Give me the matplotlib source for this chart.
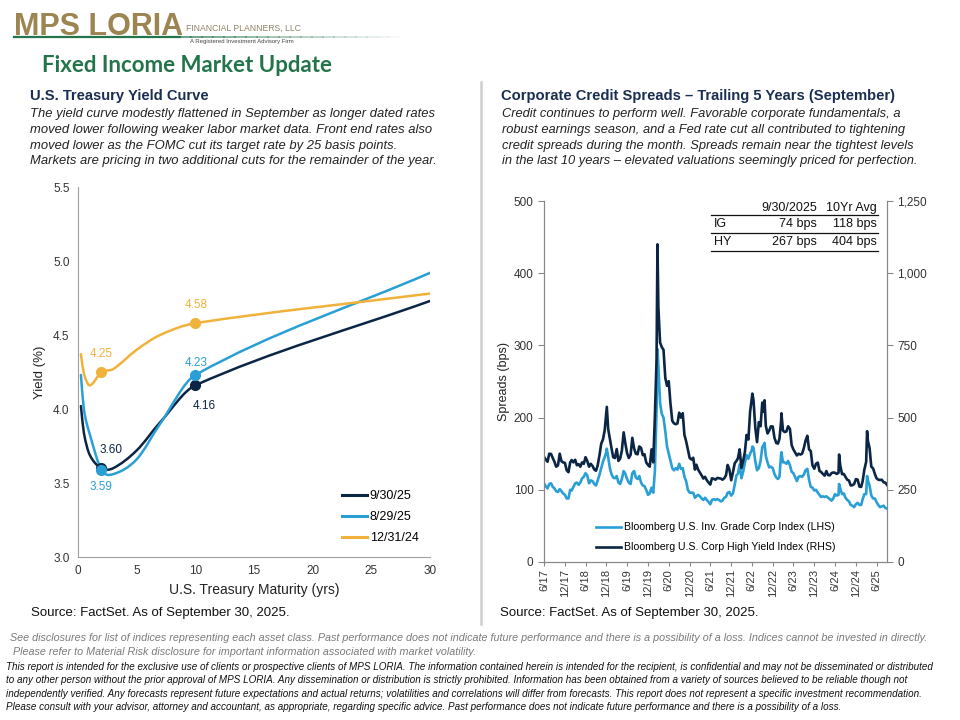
import numpy as np
import pandas as pd
import matplotlib
matplotlib.use('Agg')
import matplotlib.pyplot as plt
from matplotlib.path import Path
from matplotlib.patches import PathPatch
from matplotlib.lines import Line2D
from matplotlib.ticker import FuncFormatter

plt.rcParams['font.family'] = ['Liberation Sans', 'DejaVu Sans']

# ---- yield curve data ----
maturities = [0.25, 0.5, 1, 2, 3, 5, 7, 10, 30]
curve_names = ['9/30/25', '8/29/25', '12/31/24']
yld_sep25 = [4.02, 3.84, 3.69, 3.60, 3.60, 3.72, 3.91, 4.16, 4.73]
yld_aug25 = [4.23, 4.00, 3.83, 3.59, 3.56, 3.66, 3.90, 4.23, 4.92]
yld_dec24 = [4.37, 4.24, 4.16, 4.25, 4.27, 4.40, 4.50, 4.58, 4.78]
label_tenors = [2, 10]

# ---- credit spreads data (semi-monthly, 6/30/2017 - 9/30/2025) ----
ig_2017 = [109, 105, 102, 108, 109, 104, 102, 98, 97, 101, 98, 95, 93]
ig_2018 = [88, 88, 100, 99, 104, 109, 110, 107, 110, 116, 118, 123, 120, 109, 113, 112, 108, 106, 113, 121, 130, 139, 145, 153]
ig_2019 = [145, 129, 121, 117, 116, 119, 110, 108, 115, 126, 122, 115, 110, 108, 123, 126, 117, 115, 119, 110, 106, 105, 100, 93]
ig_2020 = [95, 103, 96, 125, 210, 272, 220, 205, 200, 181, 160, 150, 140, 130, 127, 130, 128, 136, 129, 130, 118, 112, 100, 96]
ig_2021 = [96, 96, 89, 91, 93, 91, 88, 86, 89, 86, 83, 80, 86, 87, 86, 87, 86, 84, 85, 89, 90, 96, 97, 92]
ig_2022 = [95, 107, 120, 122, 135, 116, 125, 137, 148, 143, 150, 155, 158, 139, 127, 130, 140, 159, 163, 147, 138, 131, 132, 130]
ig_2023 = [122, 117, 115, 118, 150, 138, 138, 136, 140, 134, 125, 123, 118, 112, 118, 119, 118, 121, 127, 129, 114, 104, 103, 99]
ig_2024 = [100, 96, 93, 90, 91, 90, 91, 89, 87, 85, 88, 94, 92, 93, 102, 94, 95, 89, 86, 84, 79, 78, 76, 80]
ig_2025 = [82, 79, 79, 87, 94, 94, 113, 106, 92, 88, 88, 83, 79, 76, 77, 78, 75, 74]

hy_2017 = [364, 355, 347, 375, 374, 360, 347, 330, 335, 375, 349, 345, 343]
hy_2018 = [318, 311, 345, 353, 345, 354, 335, 339, 330, 345, 340, 363, 350, 330, 340, 332, 320, 316, 335, 371, 410, 424, 455, 526]
hy_2019 = [460, 423, 390, 363, 360, 391, 350, 358, 385, 449, 410, 377, 360, 371, 430, 393, 375, 373, 400, 395, 370, 373, 345, 336]
hy_2020 = [330, 390, 345, 500, 700, 880, 760, 744, 735, 637, 610, 626, 550, 489, 480, 477, 480, 517, 500, 515, 440, 418, 390, 360]
hy_2021 = [355, 361, 320, 337, 320, 310, 300, 289, 295, 283, 275, 268, 290, 288, 285, 291, 290, 289, 285, 290, 300, 336, 320, 283]
hy_2022 = [310, 342, 350, 359, 390, 325, 350, 380, 440, 424, 520, 569, 560, 464, 415, 484, 470, 552, 520, 472, 445, 455, 470, 469]
hy_2023 = [430, 412, 410, 427, 490, 455, 450, 452, 470, 461, 405, 390, 380, 369, 375, 372, 375, 394, 420, 437, 390, 384, 335, 323]
hy_2024 = [340, 344, 315, 312, 305, 299, 315, 301, 300, 308, 310, 309, 305, 309, 335, 304, 305, 295, 285, 282, 265, 266, 270, 287]
hy_2025 = [285, 261, 260, 280, 320, 347, 420, 394, 330, 324, 305, 290, 285, 284, 285, 276, 275, 267]

# stress peaks between the semi-monthly points
peak_dates = ['2019-01-03', '2020-03-23', '2022-07-05', '2022-10-20', '2023-03-17', '2024-08-05', '2025-04-08']
ig_peaks = [157, 295, 160, 165, 152, 108, 119]
hy_peaks = [537, 1100, 583, 560, 515, 372, 453]

table_rows = [['IG', '74 bps', '118 bps'], ['HY', '267 bps', '404 bps']]

NAVY = '#0B2545'
LBLUE = '#2A9FD6'
GOLD = '#F0B23A'
GREEN = '#23744A'
W, H = 960, 720


def ftext(fig, x, y, s, **kw):
    kw.setdefault('va', 'center')
    fig.text(x / W, 1 - y / H, s, **kw)


def fline(fig, x0, x1, y, **kw):
    fig.add_artist(Line2D([x0 / W, x1 / W], [1 - y / H, 1 - y / H], transform=fig.transFigure, **kw))


def smooth_path(x, y):
    # cubic hermite through the points, drawn as bezier segments
    x = np.asarray(x, float)
    y = np.asarray(y, float)
    m = np.zeros_like(y)
    m[0] = (y[1] - y[0]) / (x[1] - x[0])
    m[-1] = (y[-1] - y[-2]) / (x[-1] - x[-2])
    m[1:-1] = (y[2:] - y[:-2]) / (x[2:] - x[:-2])
    verts = [(x[0], y[0])]
    codes = [Path.MOVETO]
    for i in range(len(x) - 1):
        h = x[i + 1] - x[i]
        verts += [(x[i] + h / 3, y[i] + m[i] * h / 3),
                  (x[i + 1] - h / 3, y[i + 1] - m[i + 1] * h / 3),
                  (x[i + 1], y[i + 1])]
        codes += [Path.CURVE4] * 3
    return Path(verts, codes)


fig = plt.figure(figsize=(9.6, 7.2), dpi=100)

# ---- header ----
ftext(fig, 14, 27, 'MPS LORIA', fontsize=22, fontweight='bold', color='#9C8551')
ftext(fig, 186, 28, 'FINANCIAL PLANNERS, LLC', fontsize=6.2, color='#8F8468',
      family=['Liberation Sans Narrow', 'Liberation Sans'])
ftext(fig, 190, 42, 'A Registered Investment Advisory Firm', fontsize=4.3, color='#444444')
fline(fig, 14, 180, 36.5, color=GREEN, lw=1.6)
for i in range(20):
    fline(fig, 180 + i * 11, 191 + i * 11, 36.5, color=GREEN, lw=1.2, alpha=0.8 * (1 - i / 20))
ftext(fig, 42, 66, 'Fixed Income Market Update', fontsize=16, fontweight='bold', color=GREEN,
      family=['Lato', 'DejaVu Sans'])

# divider
fig.add_artist(Line2D([481 / W, 481 / W], [1 - 82 / H, 1 - 624 / H], transform=fig.transFigure,
                      color='#CFCFCF', lw=1.8))

# ---- section texts ----
ftext(fig, 30, 96, 'U.S. Treasury Yield Curve', fontsize=10.6, fontweight='bold', color='#1B2F52')
left_body = ['The yield curve modestly flattened in September as longer dated rates',
             'moved lower following weaker labor market data. Front end rates also',
             'moved lower as the FOMC cut its target rate by 25 basis points.',
             'Markets are pricing in two additional cuts for the remainder of the year.']
for i, s in enumerate(left_body):
    ftext(fig, 30, 114 + i * 15.8, s, fontsize=9.4, style='italic', color='#222222')

ftext(fig, 501, 96, 'Corporate Credit Spreads \u2013 Trailing 5 Years (September)', fontsize=10.6,
      fontweight='bold', color='#1B2F52')
right_body = ['Credit continues to perform well. Favorable corporate fundamentals, a',
              'robust earnings season, and a Fed rate cut all contributed to tightening',
              'credit spreads during the month. Spreads remain near the tightest levels',
              'in the last 10 years \u2013 elevated valuations seemingly priced for perfection.']
for i, s in enumerate(right_body):
    ftext(fig, 502, 114 + i * 15.8, s, fontsize=9.3, style='italic', color='#222222')

# ---- yield curve chart ----
ax = fig.add_axes([78 / W, 1 - 557 / H, (430 - 78) / W, (557 - 187) / H])
colors = [NAVY, LBLUE, GOLD]
handles = []
for name, ys, c in zip(curve_names, [yld_sep25, yld_aug25, yld_dec24], colors):
    ax.add_patch(PathPatch(smooth_path(maturities, ys), fill=False, edgecolor=c, lw=1.8, capstyle='round'))
    pts = [maturities.index(t) for t in label_tenors]
    ax.plot([maturities[p] for p in pts], [ys[p] for p in pts], 'o', color=c, ms=7, zorder=5)
    handles.append(Line2D([0], [0], color=c, lw=2.2))

# point labels
ax.text(2.0, 4.37, '%.2f' % yld_dec24[3], color=GOLD, fontsize=8.5, ha='center', va='center')
ax.text(10.1, 4.70, '%.2f' % yld_dec24[7], color=GOLD, fontsize=8.5, ha='center', va='center')
ax.text(10.1, 4.31, '%.2f' % yld_aug25[7], color=LBLUE, fontsize=8.5, ha='center', va='center')
ax.text(2.0, 3.47, '%.2f' % yld_aug25[3], color=LBLUE, fontsize=8.5, ha='center', va='center')
ax.text(10.8, 4.02, '%.2f' % yld_sep25[7], color=NAVY, fontsize=8.5, ha='center', va='center')
ax.text(2.85, 3.72, '%.2f' % yld_sep25[3], color=NAVY, fontsize=8.5, ha='center', va='center')

ax.set_xlim(0, 30)
ax.set_ylim(3.0, 5.5)
ax.set_xticks(range(0, 31, 5))
ax.set_yticks(np.arange(3.0, 5.51, 0.5))
ax.yaxis.set_major_formatter(FuncFormatter(lambda v, p: '%.1f' % v))
ax.tick_params(length=0, labelsize=8.5, labelcolor='#333333', pad=6)
for s in ['top', 'right']:
    ax.spines[s].set_visible(False)
for s in ['left', 'bottom']:
    ax.spines[s].set_color('#A0A0A0')
ax.set_ylabel('Yield (%)', fontsize=9.5, color='#222222', labelpad=5)
ax.set_xlabel('U.S. Treasury Maturity (yrs)', fontsize=10, color='#222222', labelpad=4)
ax.legend(handles, curve_names, loc='lower right', bbox_to_anchor=(1.0, 0.005), frameon=False,
          fontsize=9, handlelength=2.0, labelspacing=0.7, handletextpad=0.2)

# ---- credit spreads chart ----
ig_all = ig_2017 + ig_2018 + ig_2019 + ig_2020 + ig_2021 + ig_2022 + ig_2023 + ig_2024 + ig_2025
hy_all = hy_2017 + hy_2018 + hy_2019 + hy_2020 + hy_2021 + hy_2022 + hy_2023 + hy_2024 + hy_2025
try:
    dates = pd.date_range('2017-06-30', '2025-09-30', freq='SME')
except ValueError:
    dates = pd.date_range('2017-06-30', '2025-09-30', freq='SM')
n = min(len(dates), len(ig_all), len(hy_all))
spreads = pd.DataFrame({'ig': ig_all[:n], 'hy': hy_all[:n]}, index=dates[:n])
peaks = pd.DataFrame({'ig': ig_peaks, 'hy': hy_peaks}, index=pd.to_datetime(peak_dates))
spreads = pd.concat([spreads, peaks]).sort_index()

ax_r = fig.add_axes([544 / W, 1 - 562 / H, (887 - 544) / W, (562 - 201) / H])
ax_hy = ax_r.twinx()
l_ig, = ax_r.plot(spreads.index, spreads['ig'], color=LBLUE, lw=1.9)
l_hy, = ax_hy.plot(spreads.index, spreads['hy'], color=NAVY, lw=1.9)

ax_r.set_xlim(pd.Timestamp('2017-06-30'), pd.Timestamp('2025-09-30'))
ax_r.set_ylim(0, 500)
ax_hy.set_ylim(0, 1250)
ax_r.set_yticks(range(0, 501, 100))
ax_hy.set_yticks(range(0, 1251, 250))
ax_hy.yaxis.set_major_formatter(FuncFormatter(lambda v, p: '{:,.0f}'.format(v)))
tick_dates = [pd.Timestamp(y, m, 30 if m == 6 else 31) for y in range(2017, 2026) for m in (6, 12)]
tick_dates = [d for d in tick_dates if d <= pd.Timestamp('2025-09-30')]
ax_r.set_xticks(tick_dates)
ax_r.set_xticklabels(['%d/%s' % (d.month, str(d.year)[2:]) for d in tick_dates], rotation=90)
ax_r.tick_params(axis='y', length=4, color='#888888', labelsize=8.5, labelcolor='#333333')
ax_r.tick_params(axis='x', length=3, color='#888888', labelsize=8, labelcolor='#333333', pad=2)
ax_hy.tick_params(axis='y', length=4, color='#888888', labelsize=8.5, labelcolor='#333333')
for a in (ax_r, ax_hy):
    a.spines['top'].set_visible(False)
    for s in ['left', 'right', 'bottom']:
        a.spines[s].set_color('#888888')
ax_r.set_ylabel('Spreads (bps)', fontsize=9, color='#222222', labelpad=3)
ax_hy.legend([l_ig, l_hy], ['Bloomberg U.S. Inv. Grade Corp Index (LHS)',
                            'Bloomberg U.S. Corp High Yield Index (RHS)'],
             loc='lower center', bbox_to_anchor=(0.5, 0.0), frameon=False, fontsize=7.6,
             handlelength=2.4, labelspacing=0.95, handletextpad=0.3)

# table in the corner
ftext(fig, 817, 208, '9/30/2025', fontsize=9, ha='right', color='#111111')
ftext(fig, 877, 208, '10Yr Avg', fontsize=9, ha='right', color='#111111')
fline(fig, 711, 878, 215, color='#111111', lw=0.9)
for i, row in enumerate(table_rows):
    y = 224 + i * 18
    ftext(fig, 714, y, row[0], fontsize=9, color='#111111')
    ftext(fig, 817, y, row[1], fontsize=9, ha='right', color='#111111')
    ftext(fig, 877, y, row[2], fontsize=9, ha='right', color='#111111')
    fline(fig, 711, 878, y + 9, color='#111111', lw=0.9)

# ---- sources and disclosures ----
ftext(fig, 31, 613, 'Source: FactSet. As of September 30, 2025.', fontsize=9.5, color='#111111')
ftext(fig, 500, 613, 'Source: FactSet. As of September 30, 2025.', fontsize=9.5, color='#111111')
disc = ['See disclosures for list of indices representing each asset class. Past performance does not indicate '
        'future performance and there is a possibility of a loss. Indices cannot be invested in directly.',
        ' Please refer to Material Risk disclosure for important information associated with market volatility.']
for i, s in enumerate(disc):
    ftext(fig, 10, 638 + i * 14, s, fontsize=7.75, style='italic', color='#7A7A7A')
foot = ['This report is intended for the exclusive use of clients or prospective clients of MPS LORIA. The information '
        'contained herein is intended for the recipient, is confidential and may not be disseminated or distributed',
        'to any other person without the prior approval of MPS LORIA. Any dissemination or distribution is strictly '
        'prohibited. Information has been obtained from a variety of sources believed to be reliable though not',
        'independently verified. Any forecasts represent future expectations and actual returns; volatilities and '
        'correlations will differ from forecasts. This report does not represent a specific investment recommendation.',
        'Please consult with your advisor, attorney and accountant, as appropriate, regarding specific advice. '
        'Past performance does not indicate future performance and there is a possibility of a loss.']
for i, s in enumerate(foot):
    ftext(fig, 6, 667 + i * 13.4, s, fontsize=7.1, style='italic', color='#111111')

fig.savefig('out.png', dpi=100)
